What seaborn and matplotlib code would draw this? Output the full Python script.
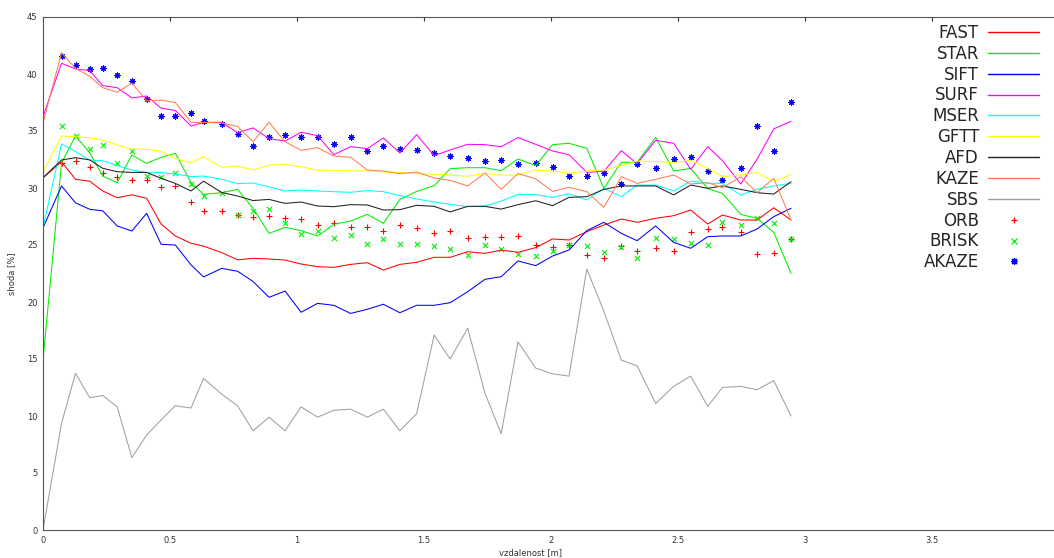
import numpy as np
import pandas as pd
import matplotlib
matplotlib.use("Agg")
import matplotlib.pyplot as plt
from matplotlib.lines import Line2D
import seaborn as sns

# vzdalenost [m]
x = [0, 0.073, 0.128, 0.184, 0.235, 0.292, 0.350, 0.408, 0.465, 0.521,
     0.583, 0.632, 0.704, 0.766, 0.827, 0.890, 0.953, 1.016, 1.081, 1.145,
     1.211, 1.277, 1.340, 1.405, 1.471, 1.540, 1.603, 1.672, 1.740, 1.804,
     1.870, 1.940, 2.006, 2.071, 2.141, 2.208, 2.277, 2.339, 2.412, 2.483,
     2.550, 2.617, 2.675, 2.747, 2.811, 2.877, 2.945]

# shoda [%] - detektory (cary)
fast = [30.9, 32.3, 30.76, 30.6, 29.74, 29.15, 29.4, 29.1, 26.84, 25.79,
        25.15, 24.9, 24.33, 23.7, 23.83, 23.77, 23.68, 23.33, 23.1, 23.04,
        23.3, 23.45, 22.8, 23.3, 23.48, 23.92, 23.92, 24.41, 24.27, 24.55,
        24.36, 24.77, 25.53, 25.44, 26.17, 26.75, 27.28, 26.99, 27.34, 27.57,
        28.07, 26.84, 27.63, 27.19, 27.19, 28.27, 27.19]
star = [14.9, 32.2, 34.56, 33.1, 31.05, 30.47, 32.89, 32.16, 32.69, 33.04,
        30.47, 29.44, 29.59, 29.88, 28.2, 26.02, 26.55, 26.26, 25.79, 26.81,
        27.1, 27.69, 26.9, 29.0, 29.7, 30.2, 31.7, 31.78, 31.78, 31.52,
        32.54, 31.96, 33.8, 33.92, 33.48, 29.97, 32.25, 32.25, 34.44, 31.49,
        31.72, 29.94, 29.53, 27.69, 27.34, 26.11, 22.51]
sift = [26.5, 30.18, 28.7, 28.13, 28.0, 26.67, 26.23, 27.78, 25.06, 25.0,
        23.25, 22.2, 22.95, 22.7, 21.8, 20.41, 20.96, 19.1, 19.88, 19.71,
        19.0, 19.36, 19.8, 19.06, 19.71, 19.71, 19.94, 20.9, 21.99, 22.22,
        23.6, 23.19, 24.03, 24.56, 26.26, 26.99, 26.02, 25.38, 26.67, 25.23,
        24.71, 25.73, 25.79, 25.79, 26.4, 27.49, 28.22]
surf = [36.26, 40.94, 40.44, 40.3, 38.98, 38.8, 37.9, 38.07, 37.0, 36.8,
        35.44, 35.76, 35.76, 34.85, 35.27, 34.33, 34.12, 34.88, 34.6, 32.92,
        33.63, 33.45, 34.39, 33.07, 34.68, 32.84, 33.33, 33.83, 33.8, 33.62,
        34.42, 33.83, 33.25, 32.92, 31.37, 31.46, 33.27, 32.13, 34.18, 33.92,
        31.64, 33.63, 32.4, 30.35, 32.51, 35.18, 35.85]
mser = [26.5, 33.86, 33.2, 32.45, 32.4, 31.96, 31.58, 31.35, 31.35, 31.23,
        31.0, 31.05, 30.76, 30.38, 30.44, 30.1, 29.74, 29.82, 29.74, 29.68,
        29.62, 29.77, 29.68, 29.33, 29.04, 28.77, 28.57, 28.36, 28.42, 28.85,
        29.44, 29.42, 29.18, 29.5, 28.95, 29.97, 29.24, 30.26, 30.26, 29.74,
        30.61, 30.41, 30.41, 29.39, 29.88, 30.18, 30.41]
gftt = [31.4, 34.56, 34.5, 34.4, 34.2, 33.77, 33.4, 33.4, 33.2, 32.6,
        32.2, 32.75, 31.8, 31.93, 31.6, 32.0, 32.08, 31.87, 31.55, 31.55,
        31.52, 31.49, 31.4, 31.35, 31.26, 31.2, 31.14, 31.02, 31.3, 31.12,
        31.14, 31.58, 31.48, 31.29, 31.49, 31.58, 31.96, 32.37, 32.31, 32.22,
        32.43, 31.72, 30.99, 31.14, 31.37, 30.56, 31.17]
afd = [30.9, 32.46, 32.66, 32.46, 31.73, 31.43, 31.37, 31.37, 30.85, 30.4,
       29.74, 30.6, 29.6, 29.3, 28.9, 29.0, 28.65, 28.77, 28.42, 28.36,
       28.54, 28.51, 28.07, 28.1, 28.48, 28.39, 27.9, 28.39, 28.39, 28.15,
       28.54, 28.88, 28.45, 29.18, 29.24, 29.88, 30.18, 30.18, 30.18, 29.39,
       30.26, 29.97, 30.18, 29.88, 29.59, 29.47, 30.55]
kaze = [35.7, 41.87, 40.5, 39.8, 38.8, 38.4, 39.2, 37.66, 37.7, 37.5,
        35.76, 35.76, 35.7, 35.4, 34.06, 35.76, 34.06, 33.3, 33.54, 32.8,
        32.7, 31.58, 31.49, 31.26, 31.4, 30.88, 30.67, 30.18, 31.32, 29.88,
        31.27, 30.8, 29.7, 30.06, 29.68, 28.3, 30.99, 30.41, 30.76, 31.14,
        30.35, 30.47, 30.03, 30.99, 29.59, 30.85, 27.19]
sbs = [0, 9.36, 13.75, 11.6, 11.8, 10.8, 6.35, 8.33, 9.65, 10.9,
       10.7, 13.3, 11.9, 10.9, 8.7, 9.9, 8.7, 10.8, 9.9, 10.5,
       10.6, 9.9, 10.6, 8.7, 10.2, 17.1, 15.0, 17.7, 12.0, 8.45,
       16.5, 14.2, 13.7, 13.5, 22.9, 19.2, 14.9, 14.4, 11.1, 12.6,
       13.5, 10.85, 12.5, 12.6, 12.3, 13.1, 10.0]

# shoda [%] - deskriptory (body), bez bodu v nule
orb = [np.nan, 32.22, 32.4, 31.87, 31.35, 31.0, 30.7, 30.7, 30.12, 30.18,
       28.74, 28.0, 27.98, 27.66, 27.43, 27.54, 27.4, 27.25, 26.75, 26.9,
       26.61, 26.61, 26.26, 26.75, 26.46, 26.02, 26.23, 25.58, 25.73, 25.7,
       25.79, 25.0, 24.8, 25.0, 24.12, 23.83, 24.94, 24.5, 24.71, 24.5,
       26.17, 26.4, 26.61, 26.11, 24.24, 24.3, 25.53]
brisk = [np.nan, 35.44, 34.56, 33.39, 33.74, 32.16, 33.25, 31.05, 31.0, 31.29,
         30.32, 29.33, 29.53, 27.66, 28.01, 28.13, 26.96, 25.96, 26.23, 25.58,
         25.88, 25.06, 25.53, 25.12, 25.12, 24.94, 24.62, 24.15, 25.0, 24.64,
         24.18, 24.03, 24.5, 25.0, 24.94, 24.41, 24.8, 23.89, 25.64, 25.5,
         25.15, 25.0, 27.05, 26.75, 27.34, 26.9, 25.5]
akaze = [np.nan, 41.58, 40.82, 40.44, 40.53, 39.9, 39.4, 37.8, 36.35, 36.35,
         36.6, 35.85, 35.65, 34.7, 33.7, 34.45, 34.65, 34.5, 34.45, 33.86,
         34.5, 33.25, 33.65, 33.45, 33.3, 33.04, 32.78, 32.63, 32.34, 32.49,
         32.13, 32.22, 31.87, 31.08, 31.08, 31.32, 30.38, 32.08, 31.78, 32.54,
         32.75, 31.52, 30.7, 31.72, 35.44, 33.25, 37.52]

lines = [
    ("FAST", fast, "#ff0000"),
    ("STAR", star, "#00ee00"),
    ("SIFT", sift, "#0000ff"),
    ("SURF", surf, "#ff00ff"),
    ("MSER", mser, "#00ffff"),
    ("GFTT", gftt, "#ffff00"),
    ("AFD", afd, "#202020"),
    ("KAZE", kaze, "#ff7f50"),
    ("SBS", sbs, "#a0a0a0"),
]
points = [
    ("ORB", orb, "#ff0000", "+", 16),
    ("BRISK", brisk, "#00ee00", "x", 14),
    ("AKAZE", akaze, "#0000ff", (8, 2, 0), 14),
]

sns.set_theme(style="white")
plt.rcParams["font.family"] = ["DejaVu Sans"]

fig = plt.figure(figsize=(10.54, 5.58), dpi=100)
ax = fig.add_axes([43 / 1054, 28 / 558, 1016 / 1054, 513 / 558])

for name, vals, col in lines:
    sns.lineplot(x=x, y=vals, ax=ax, color=col, linewidth=0.75)

for name, vals, col, mk, sz in points:
    sns.scatterplot(x=x, y=vals, ax=ax, color=col, marker=mk, s=sz,
                    linewidth=0.8)

ax.set_xlim(0, 4)
ax.set_ylim(0, 45)
ax.set_xticks([0, 0.5, 1, 1.5, 2, 2.5, 3, 3.5])
ax.set_xticklabels(["0", "0.5", "1", "1.5", "2", "2.5", "3", "3.5"])
ax.set_yticks(range(0, 46, 5))
ax.tick_params(direction="in", top=True, right=True, length=3, width=0.8,
               labelsize=6, colors="#333333", pad=4)
for sp in ax.spines.values():
    sp.set_color("#555555")
    sp.set_linewidth(0.8)

ax.set_xlabel("vzdalenost [m]", fontsize=6, color="#333333")
ax.set_ylabel("shoda [%]", fontsize=6, color="#333333")
ax.xaxis.set_label_coords((530 - 43) / 1016, -0.035)
ax.yaxis.set_label_coords(-0.026, 0.5)

# legenda
handles = [Line2D([], [], color=col, lw=1.0) for _, _, col in lines]
handles += [Line2D([], [], color=col, lw=0, marker=mk, markersize=5,
                   markeredgewidth=0.9) for _, _, col, mk, _ in points]
names = [l[0] for l in lines] + [p[0] for p in points]
ax.legend(handles, names, loc="upper right",
          bbox_to_anchor=(1039 / 1054, 1 - 24 / 558),
          bbox_transform=fig.transFigure, frameon=False, markerfirst=False,
          fontsize=12, handlelength=3.05, handletextpad=0.55,
          labelspacing=0.17, borderpad=0, borderaxespad=0)

fig.savefig("out.png", dpi=100)
